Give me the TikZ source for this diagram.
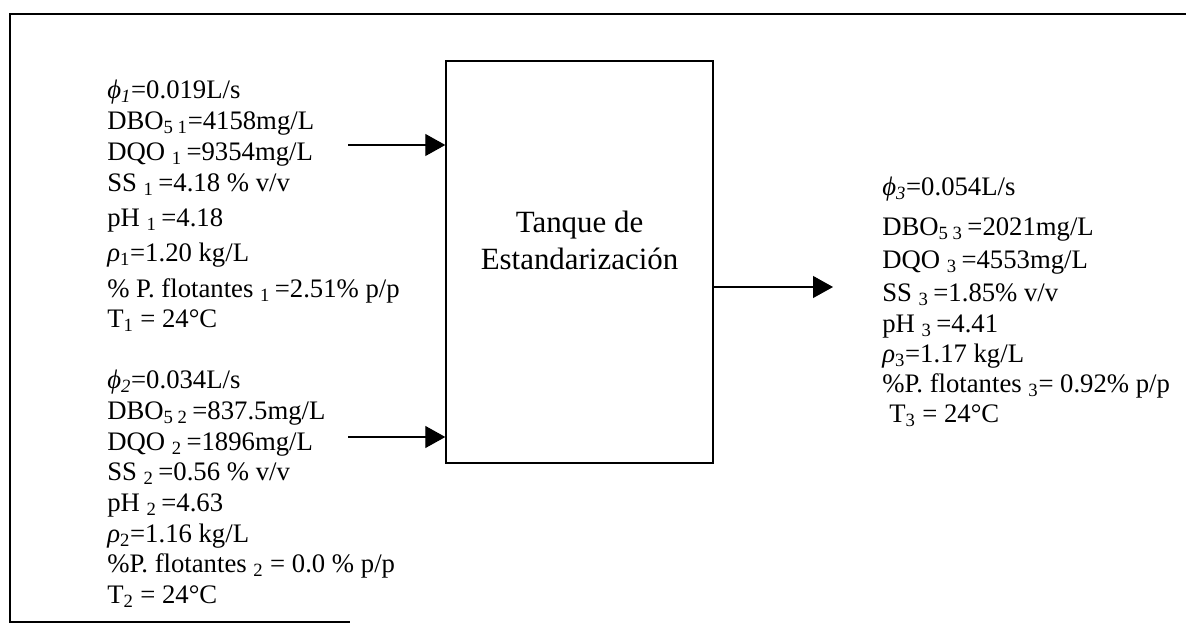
\documentclass[tikz,border=0pt]{standalone}
\usepackage{fontspec}
\setmainfont{Liberation Serif}
\usepackage{tikz}
\usetikzlibrary{arrows.meta, positioning, calc}

\begin{document}
\begin{tikzpicture}[
    >={Triangle[length=0.5cm, width=0.55cm]},
    tank/.style={draw, rectangle, minimum width=6.675cm, minimum height=10.05cm,
                 line width=1pt},
    tanktext/.style={font=\fontsize{22}{26.3}\selectfont, align=center, inner sep=0pt},
    stream/.style={anchor=north west, inner sep=0pt, align=left},
    flow/.style={->, line width=0.8pt},
    frame/.style={line width=1.1pt},
]
\useasboundingbox (0, 0) rectangle (29.65, -15.6);

% --- Frame ---
\draw[frame] (29.65, -0.35) -- (0.25, -0.35) -- (0.25, -15.55) -- (8.75, -15.55);

% --- Tank ---
\node[tank] (tank) at (14.4875, -6.55) {};
\node[tanktext] (tanklbl) at ([yshift=0.55cm]tank.center) {Tanque de\\Estandarización};

% --- Inlet 1 ---
\node[stream, font=\fontsize{19}{22}\selectfont] (feed1) at (2.675, -2.0) {
    \textit{ϕ\textsubscript{1}}=0.019L/s\\
    DBO\textsubscript{5\ 1}=4158mg/L\\
    DQO \textsubscript{1\ }=9354mg/L\\
    SS \textsubscript{1\ }=4.18 \% v/v\\[3pt]
    pH \textsubscript{1\ }=4.18\\[3pt]
    \textit{ρ}\textsubscript{1}=1.20 kg/L\\[3pt]
    \% P. flotantes \textsubscript{1\ }=2.51\% p/p\\
    T\textsubscript{1} = 24°C
};

% --- Inlet 2 ---
\node[stream, font=\fontsize{19}{21.8}\selectfont] (feed2) at (2.675, -9.25) {
    \textit{ϕ\textsubscript{2}}=0.034L/s\\
    DBO\textsubscript{5\ 2\ }=837.5mg/L\\
    DQO \textsubscript{2\ }=1896mg/L\\
    SS \textsubscript{2\ }=0.56 \% v/v\\
    pH \textsubscript{2\ }=4.63\\
    \textit{ρ}\textsubscript{2}=1.16 kg/L\\
    \%P. flotantes \textsubscript{2} = 0.0 \% p/p\\
    T\textsubscript{2} = 24°C
};

% --- Outlet ---
\node[stream, font=\fontsize{19}{21.5}\selectfont] (prod) at (22.05, -4.425) {
    \textit{ϕ\textsubscript{3}}=0.054L/s\\[7pt]
    DBO\textsubscript{5\ 3\ }=2021mg/L\\[2pt]
    DQO \textsubscript{3\ }=4553mg/L\\[2pt]
    SS \textsubscript{3\ }=1.85\% v/v\\
    pH \textsubscript{3\ }=4.41\\
    \textit{ρ}\textsubscript{3}=1.17 kg/L\\
    \%P. flotantes \textsubscript{3}= 0.92\% p/p\\
    \hspace*{5pt}T\textsubscript{3} = 24°C
};

% --- Streams ---
\coordinate (in1) at (8.7, -3.625);
\coordinate (in2) at (8.7, -10.925);
\coordinate (out) at (20.825, -7.175);

\draw[flow] (in1) -- (in1 -| tank.west);
\draw[flow] (in2) -- (in2 -| tank.west);
\draw[flow] (out -| tank.east) -- (out);

\end{tikzpicture}
\end{document}
